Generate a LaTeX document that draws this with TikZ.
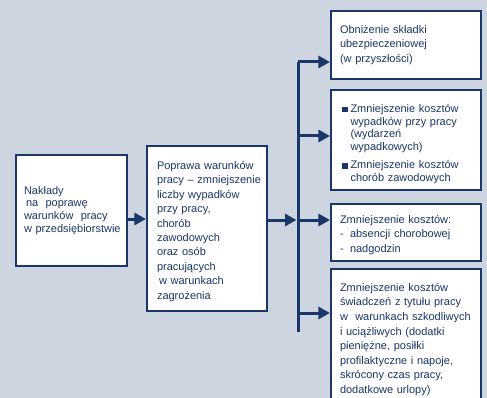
\documentclass[tikz,border=0pt]{standalone}
\usepackage{fontspec}
\setmainfont{Liberation Sans}
\usetikzlibrary{arrows.meta}

\definecolor{bgblue}{RGB}{204,213,224}
\definecolor{navy}{RGB}{27,54,104}

\tikzset{
  box/.style={draw=navy, fill=white, line width=2.2pt, text=navy, align=left,
    inner xsep=9pt, inner ysep=0pt, font=\fontsize{11}{14.6}\selectfont},
  link/.style={draw=navy, line width=3pt, -{Triangle[length=11.5pt,width=12pt]}},
  bar/.style={draw=navy, line width=3pt},
}
\newcommand{\sqitem}{\makebox[8.5pt][l]{\rule[0.4pt]{5.5pt}{5.5pt}}}
\newcommand{\hang}{\hspace*{8.5pt}}
\newcommand{\dashitem}{\makebox[10pt][l]{-}}
\newcommand{\lift}[1]{\rule{0pt}{#1}}

\begin{document}
\begin{tikzpicture}[x=1pt,y=1pt,yscale=-1]

% background
\fill[bgblue] (0,0) rectangle (487,398);
\useasboundingbox (0,0) rectangle (487,398);
\clip (0,0) rectangle (487,398);

% left boxes
\node[box, text width=95pt, inner xsep=8pt, minimum height=111pt, font=\fontsize{11}{12.8}\selectfont] (naklady) at (71.5,210.5)
  {Nakłady\\\hspace*{2pt}na\ \ poprawę\\warunków\ \ pracy\\\mbox{w przedsiębiorstwie}};
\node[box, text width=100pt, inner xsep=10pt, minimum height=165pt, font=\fontsize{11}{14.4}\selectfont] (poprawa) at (207,228.5)
  {\lift{14pt}Poprawa warunków\\\mbox{pracy -- zmniejszenie}\\liczby wypadków\\przy pracy,\\chorób\\zawodowych\\oraz osób\\pracujących\\\hspace*{2pt}w warunkach\\zagrożenia};

% right boxes
\node[box, text width=132pt, minimum height=68pt] (skladka) at (406,45)
  {Obniżenie składki\\ubezpieczeniowej\\(w przyszłości)};
\node[box, text width=128pt, inner xsep=11pt, minimum height=100pt, font=\fontsize{11}{12.4}\selectfont] (wypadki) at (406,140)
  {\lift{16.5pt}\sqitem Zmniejszenie kosztów\\\hang wypadków przy pracy\\\hang (wydarzeń\\\hang wypadkowych)\\[6.5pt]%
   \sqitem Zmniejszenie kosztów\\\hang chorób zawodowych};
\node[box, text width=132pt, minimum height=57pt] (absencja) at (406,232.5)
  {\lift{13pt}Zmniejszenie kosztów:\\\dashitem absencji chorobowej\\\dashitem nadgodzin};
\node[box, text width=132pt, minimum height=141pt] (swiadczenia) at (406,339.5)
  {Zmniejszenie kosztów\\świadczeń z tytułu pracy\\w\ \ warunkach szkodliwych\\i uciążliwych (dodatki\\pieniężne, posiłki\\profilaktyczne i napoje,\\skrócony czas pracy,\\dodatkowe urlopy)};

% junction bar
\coordinate (jA) at (298,62);
\coordinate (jB) at (298,136);
\coordinate (jC) at (298,220);
\coordinate (jD) at (298,313);
\coordinate (jEnd) at (298,332);
\draw[bar] (jA) -- (jEnd);

% connectors
\draw[link] (naklady.east |- 0,219) -- (poprawa.west |- 0,219);
\draw[link, shorten >=1.5pt] (poprawa.east |- jC) -- (jC);
\draw[link] (jA) -- (jA -| skladka.west);
\draw[link] (jB) -- (jB -| wypadki.west);
\draw[link] (jC) -- (jC -| absencja.west);
\draw[link] (jD) -- (jD -| swiadczenia.west);

\end{tikzpicture}
\end{document}
